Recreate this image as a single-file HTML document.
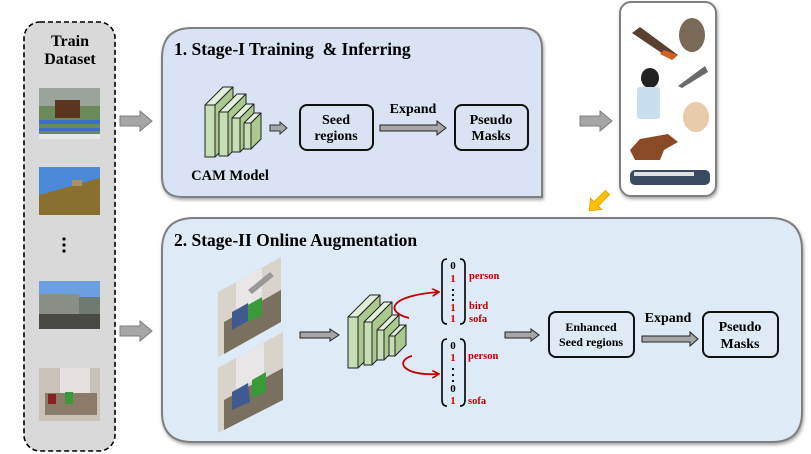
<!DOCTYPE html>
<html><head><meta charset="utf-8"><style>
html,body{margin:0;padding:0;background:#fff;}
svg{display:block;font-family:"Liberation Serif",serif;}
</style></head><body>
<svg width="811" height="454" viewBox="0 0 811 454" xmlns="http://www.w3.org/2000/svg">
<defs>
<marker id="ra" markerWidth="8" markerHeight="8" refX="6" refY="4" orient="auto" markerUnits="userSpaceOnUse"><path d="M0,0 L7,4 L0,8" fill="none" stroke="#c00000" stroke-width="1.6"/></marker>
<filter id="sh" x="-5%" y="-5%" width="110%" height="115%"><feDropShadow dx="1" dy="2" stdDeviation="1.5" flood-color="#000" flood-opacity="0.35"/></filter>
</defs>

<rect x="24" y="22" width="91" height="429" rx="16" fill="#d9d9d9" stroke="#000" stroke-width="1.6" stroke-dasharray="5,3"/>
<text x="70" y="46" font-size="16" font-weight="bold" text-anchor="middle">Train</text>
<text x="70" y="64" font-size="16" font-weight="bold" text-anchor="middle">Dataset</text>
<g>
<rect x="39" y="88" width="61" height="51" fill="#6a8a5a"/><rect x="39" y="88" width="61" height="18" fill="#9aa49a"/><rect x="55" y="100" width="25" height="18" fill="#5a3520"/><rect x="39" y="120" width="61" height="4" fill="#3a6ec8"/><rect x="39" y="128" width="61" height="3" fill="#3a6ec8"/><rect x="39" y="134" width="61" height="5" fill="#e8e8e8"/>
</g>
<g>
<rect x="39" y="167" width="61" height="48" fill="#4a8ad8"/><polygon points="39,195 100,178 100,215 39,215" fill="#8a7030"/><rect x="72" y="180" width="10" height="6" fill="#b09060"/>
</g>
<circle cx="64" cy="239" r="1.6" fill="#000"/><circle cx="64" cy="245" r="1.6" fill="#000"/><circle cx="64" cy="251" r="1.6" fill="#000"/>
<g>
<rect x="39" y="281" width="61" height="48" fill="#6d7b70"/><rect x="39" y="281" width="61" height="16" fill="#6ba0e0"/><rect x="39" y="294" width="40" height="20" fill="#8a8f88"/><rect x="39" y="314" width="61" height="15" fill="#4a4a45"/>
</g>
<g>
<rect x="39" y="368" width="61" height="53" fill="#c8c2b8"/><rect x="60" y="368" width="30" height="25" fill="#e6e0e0"/><rect x="45" y="393" width="52" height="22" fill="#8a7c68"/><rect x="65" y="392" width="8" height="12" fill="#3a9a3a"/><rect x="48" y="394" width="8" height="10" fill="#8a2020"/>
</g>

<g fill="#a6a6a6" stroke="#7f7f7f" stroke-width="1">
<polygon points="120,116 140,116 140,111 152,121 140,131 140,126 120,126"/>
<polygon points="120,326 140,326 140,321 152,331 140,341 140,336 120,336"/>
<polygon points="580,116 600,116 600,111 612,121 600,131 600,126 580,126"/>
</g>

<path d="M162,58 Q162,28 192,28 L522,28 Q542,28 542,48 L542,197 L182,197 Q162,197 162,177 Z" fill="#dae3f3" stroke="#7f7f7f" stroke-width="2" filter="url(#sh)"/>
<text x="174" y="55" font-size="17.5" font-weight="bold" xml:space="preserve">1. Stage-I Training&#160; &amp; Inferring</text>

<g stroke="#222" stroke-width="1" stroke-linejoin="round">
<g><polygon points="205,105 223,87 233,87 215,105" fill="#e2f0d9"/><polygon points="215,105 233,87 233,139 215,157" fill="#a9c98f"/><rect x="205" y="105" width="10" height="52" fill="#c5dfb4"/></g>
<g><polygon points="219,112 237,94 246,94 228,112" fill="#e2f0d9"/><polygon points="228,112 246,94 246,138 228,156" fill="#a9c98f"/><rect x="219" y="112" width="9" height="44" fill="#c5dfb4"/></g>
<g><polygon points="232,118 246,104 254,104 240,118" fill="#e2f0d9"/><polygon points="240,118 254,104 254,138 240,152" fill="#a9c98f"/><rect x="232" y="118" width="8" height="34" fill="#c5dfb4"/></g>
<g><polygon points="244,123 254,113 261,113 251,123" fill="#e2f0d9"/><polygon points="251,123 261,113 261,139 251,149" fill="#a9c98f"/><rect x="244" y="123" width="7" height="26" fill="#c5dfb4"/></g>
</g>
<text x="230" y="180" font-size="14.5" font-weight="bold" text-anchor="middle">CAM Model</text>

<polygon points="270,125 280,125 280,122 287,128 280,134 280,131 270,131" fill="#a6a6a6" stroke="#333" stroke-width="1"/>

<rect x="300" y="105" width="73" height="45" rx="7" fill="#dae3f3" stroke="#111" stroke-width="2"/>
<text x="336" y="124" font-size="14" font-weight="bold" text-anchor="middle">Seed</text>
<text x="336" y="140" font-size="14" font-weight="bold" text-anchor="middle">regions</text>
<text x="413" y="113" font-size="14" font-weight="bold" text-anchor="middle">Expand</text>
<polygon points="380,125 437,125 437,121 446,128 437,135 437,131 380,131" fill="#a6a6a6" stroke="#222" stroke-width="1"/>
<rect x="455" y="105" width="73" height="45" rx="7" fill="#dae3f3" stroke="#111" stroke-width="2"/>
<text x="491" y="124" font-size="14" font-weight="bold" text-anchor="middle">Pseudo</text>
<text x="491" y="140" font-size="14" font-weight="bold" text-anchor="middle">Masks</text>

<rect x="620" y="2" width="96" height="194" rx="11" fill="#fff" stroke="#7f7f7f" stroke-width="2" filter="url(#sh)"/>
<polygon points="632,33 640,27 678,55 672,60" fill="#5a4030"/><polygon points="664,50 678,55 672,60 660,54" fill="#d06020"/>
<ellipse cx="692" cy="35" rx="13" ry="17" fill="#7a6a58"/>
<ellipse cx="650" cy="78" rx="9" ry="10" fill="#222"/><rect x="637" y="87" width="23" height="32" rx="3" fill="#c8dff0"/>
<polygon points="678,86 705,66 708,72 682,88" fill="#6a6a6a"/>
<ellipse cx="696" cy="117" rx="13" ry="15" fill="#e8cbaa"/>
<polygon points="630,150 640,139 668,134 678,142 664,150 660,160 635,160" fill="#8a4a25"/>
<rect x="630" y="170" width="80" height="15" rx="5" fill="#3a4a60"/><rect x="634" y="172" width="60" height="4" fill="#e0e0e0"/>

<g transform="translate(599,201) rotate(135)">
<polygon points="-12,-3 4,-3 4,-8 14,0 4,8 4,3 -12,3" fill="#ffc000" stroke="#e0a000" stroke-width="0.8"/>
</g>

<path d="M162,250 Q162,218 194,218 L770,218 Q802,218 802,250 L802,412 Q802,442 772,442 L192,442 Q162,442 162,412 Z" fill="#deeaf6" stroke="#7f7f7f" stroke-width="2" filter="url(#sh)"/>
<text x="174" y="246" font-size="17.5" font-weight="bold">2. Stage-II Online Augmentation</text>

<g>
<polygon points="218,292 281,257 281,322 218,357" fill="#d8d4cc"/>
<polygon points="236,282 262,268 262,300 236,314" fill="#e8e6e6"/>
<polygon points="224,322 281,290 281,322 224,354" fill="#7a7060"/>
<polygon points="232,312 248,303 250,320 232,330" fill="#405a90"/>
<polygon points="248,305 262,297 262,315 248,322" fill="#3a9a3a"/>
<polygon points="248,290 270,272 274,276 252,294" fill="#999"/>
</g>
<g>
<polygon points="218,368 283,332 283,400 218,433" fill="#d8d4cc"/>
<polygon points="236,358 264,343 264,375 236,390" fill="#e8e6e6"/>
<polygon points="224,400 283,368 283,400 224,430" fill="#7a7060"/>
<polygon points="232,392 248,383 250,402 232,410" fill="#405a90"/>
<polygon points="252,380 266,372 266,392 252,398" fill="#3a9a3a"/>
</g>

<polygon points="300,332 330,332 330,329 339,335 330,341 330,338 300,338" fill="#a6a6a6" stroke="#222" stroke-width="1"/>

<g stroke="#222" stroke-width="1" stroke-linejoin="round">
<g><polygon points="348,317 370,295 380,295 358,317" fill="#e2f0d9"/><polygon points="358,317 380,295 380,346 358,368" fill="#a9c98f"/><rect x="348" y="317" width="10" height="51" fill="#c5dfb4"/></g>
<g><polygon points="364,322 384,302 392,302 372,322" fill="#e2f0d9"/><polygon points="372,322 392,302 392,345 372,365" fill="#a9c98f"/><rect x="364" y="322" width="8" height="43" fill="#c5dfb4"/></g>
<g><polygon points="377,330 392,315 399,315 384,330" fill="#e2f0d9"/><polygon points="384,330 399,315 399,345 384,360" fill="#a9c98f"/><rect x="377" y="330" width="7" height="30" fill="#c5dfb4"/></g>
<g><polygon points="389,336 400,325 406,325 395,336" fill="#e2f0d9"/><polygon points="395,336 406,325 406,345 395,356" fill="#a9c98f"/><rect x="389" y="336" width="6" height="20" fill="#c5dfb4"/></g>
</g>

<path d="M409,318 C385,312 388,296 438,292" fill="none" stroke="#c00000" stroke-width="1.8" marker-end="url(#ra)"/>
<path d="M412,356 C396,360 400,376 438,374" fill="none" stroke="#c00000" stroke-width="1.8" marker-end="url(#ra)"/>

<g font-weight="bold" font-size="11">
<path d="M447,259 Q442,259 442,265 L442,318 Q442,324 447,324" fill="none" stroke="#000" stroke-width="1.6"/>
<path d="M460,259 Q465,259 465,265 L465,318 Q465,324 460,324" fill="none" stroke="#000" stroke-width="1.6"/>
<text x="453" y="269" text-anchor="middle">0</text>
<text x="453" y="282" text-anchor="middle" fill="#e00000">1</text>
<circle cx="453" cy="290" r="1.1"/><circle cx="453" cy="295" r="1.1"/><circle cx="453" cy="300" r="1.1"/>
<text x="453" y="311" text-anchor="middle" fill="#e00000">1</text>
<text x="453" y="322" text-anchor="middle" fill="#e00000">1</text>
<text x="469" y="279" font-size="10.5" fill="#c00000">person</text>
<text x="469" y="309" font-size="10.5" fill="#c00000">bird</text>
<text x="469" y="322" font-size="10.5" fill="#c00000">sofa</text>

<path d="M447,339 Q442,339 442,345 L442,400 Q442,406 447,406" fill="none" stroke="#000" stroke-width="1.6"/>
<path d="M460,339 Q465,339 465,345 L465,400 Q465,406 460,406" fill="none" stroke="#000" stroke-width="1.6"/>
<text x="453" y="349" text-anchor="middle">0</text>
<text x="453" y="361" text-anchor="middle" fill="#e00000">1</text>
<circle cx="453" cy="369" r="1.1"/><circle cx="453" cy="375" r="1.1"/><circle cx="453" cy="381" r="1.1"/>
<text x="453" y="392" text-anchor="middle">0</text>
<text x="453" y="404" text-anchor="middle" fill="#e00000">1</text>
<text x="468" y="359" font-size="10.5" fill="#c00000">person</text>
<text x="468" y="404" font-size="10.5" fill="#c00000">sofa</text>
</g>

<polygon points="505,332 531,332 531,329 539,335 531,341 531,338 505,338" fill="#a6a6a6" stroke="#222" stroke-width="1"/>

<rect x="549" y="312" width="85" height="45" rx="7" fill="#deeaf6" stroke="#111" stroke-width="2"/>
<text x="591" y="331" font-size="12" font-weight="bold" text-anchor="middle">Enhanced</text>
<text x="591" y="346" font-size="12" font-weight="bold" text-anchor="middle">Seed regions</text>
<text x="668" y="322" font-size="14" font-weight="bold" text-anchor="middle">Expand</text>
<polygon points="642,336 690,336 690,332 698,339 690,346 690,342 642,342" fill="#a6a6a6" stroke="#222" stroke-width="1"/>
<rect x="703" y="312" width="75" height="45" rx="7" fill="#deeaf6" stroke="#111" stroke-width="2"/>
<text x="740" y="331" font-size="14" font-weight="bold" text-anchor="middle">Pseudo</text>
<text x="740" y="348" font-size="14" font-weight="bold" text-anchor="middle">Masks</text>
</svg>
</body></html>
